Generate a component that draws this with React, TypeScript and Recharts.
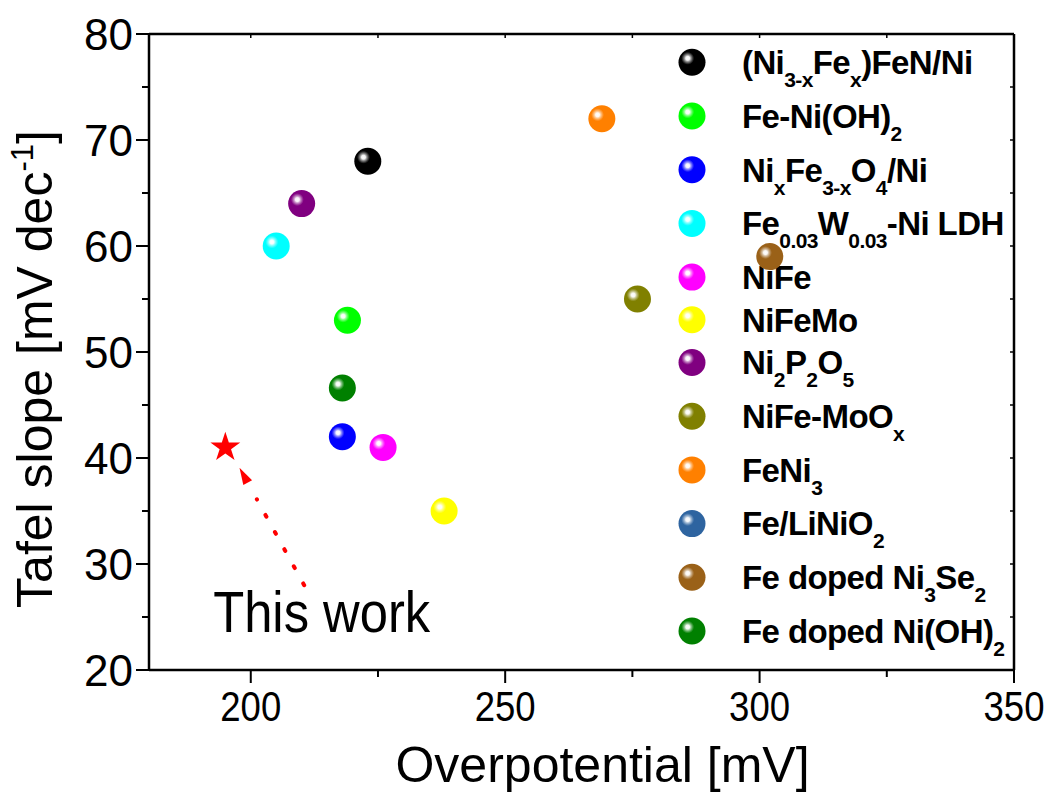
import React from "react";
import {
  ScatterChart,
  Scatter,
  XAxis,
  YAxis,
  Legend,
  Label,
  ReferenceLine,
  ReferenceDot,
} from "recharts";

// catalysts from the literature, subscripts written as _{..}
const materials = [
  "(Ni_{3-x}Fe_{x})FeN/Ni",
  "Fe-Ni(OH)_{2}",
  "Ni_{x}Fe_{3-x}O_{4}/Ni",
  "Fe_{0.03}W_{0.03}-Ni LDH",
  "NiFe",
  "NiFeMo",
  "Ni_{2}P_{2}O_{5}",
  "NiFe-MoO_{x}",
  "FeNi_{3}",
  "Fe/LiNiO_{2}",
  "Fe doped Ni_{3}Se_{2}",
  "Fe doped Ni(OH)_{2}",
];
// Fe/LiNiO2 has no visible point in the plot
const overpotential = [223, 219, 218, 205, 226, 238, 210, 276, 269, null, 302, 218];
const tafelSlope = [68, 53, 42, 60, 41, 35, 64, 55, 72, null, 59, 46.6];
const sphereColors = [
  "#000000", "#00ff00", "#0000ff", "#00ffff", "#ff00ff", "#ffff00",
  "#800080", "#808000", "#ff8000", "#2e64a0", "#9a6118", "#008000",
];

const thisWorkOverpotential = [195];
const thisWorkTafel = [41];
// dotted arrow pointing at the star
const arrowTail = { x: 210.5, y: 28 };
const arrowEnd = { x: 201.2, y: 36.1 };

const xTicks = [200, 225, 250, 275, 300, 325, 350];
const yTicks = [20, 25, 30, 35, 40, 45, 50, 55, 60, 65, 70, 75, 80];

const FONT = "'Liberation Sans', Arial, sans-serif";

function richText(s: string, subSize: number, shift: number) {
  const parts = s.split(/(_\{[^}]*\}|\^\{[^}]*\})/).filter((p) => p !== "");
  let offset = 0;
  return parts.map((p, i) => {
    let target = 0;
    let text = p;
    let size: number | undefined;
    if (p.startsWith("_{")) {
      target = shift;
      text = p.slice(2, -1);
      size = subSize;
    } else if (p.startsWith("^{")) {
      target = -shift;
      text = p.slice(2, -1);
      size = subSize;
    }
    const dy = target - offset;
    offset = target;
    return (
      <tspan key={i} dy={dy || undefined} fontSize={size}>
        {text}
      </tspan>
    );
  });
}

function Highlight({ id }: { id: string }) {
  return (
    <radialGradient id={id}>
      <stop offset="0" stopColor="#fff" stopOpacity={1} />
      <stop offset="0.3" stopColor="#fff" stopOpacity={0.95} />
      <stop offset="0.5" stopColor="#fff" stopOpacity={0.6} />
      <stop offset="0.8" stopColor="#fff" stopOpacity={0.2} />
      <stop offset="1" stopColor="#fff" stopOpacity={0} />
    </radialGradient>
  );
}

function Sphere({ cx, cy, color, hl }: { cx: number; cy: number; color: string; hl: string }) {
  return (
    <g>
      <circle cx={cx} cy={cy} r={13.5} fill={color} />
      <circle cx={cx - 4.3} cy={cy - 4} r={6.5} fill={`url(#${hl})`} />
    </g>
  );
}

function Star(props: any) {
  const { cx, cy } = props;
  const R = 15.7;
  const r = 6;
  const pts: string[] = [];
  for (let i = 0; i < 10; i++) {
    const a = (Math.PI / 5) * i - Math.PI / 2;
    const rad = i % 2 === 0 ? R : r;
    pts.push(`${cx + rad * Math.cos(a)},${cy + rad * Math.sin(a)}`);
  }
  return <polygon points={pts.join(" ")} fill="#ff0000" />;
}

function XTick(props: any) {
  const { x, y, payload } = props;
  const major = payload.value % 50 === 0;
  return (
    <g>
      <line x1={x} x2={x} y1={y} y2={y + (major ? 13 : 7)} stroke="#000" strokeWidth={2} />
      {major && (
        <text
          transform={`translate(${x},${y + 51}) scale(0.87,1)`}
          textAnchor="middle"
          fontSize={42}
          fontFamily={FONT}
          fill="#000"
        >
          {payload.value}
        </text>
      )}
    </g>
  );
}

function YTick(props: any) {
  const { x, y, payload } = props;
  const major = payload.value % 10 === 0;
  return (
    <g>
      <line x1={x} x2={x - (major ? 13 : 7)} y1={y} y2={y} stroke="#000" strokeWidth={2} />
      {major && (
        <text x={x - 16} y={y + 15.5} textAnchor="end" fontSize={44} fontFamily={FONT} fill="#000">
          {payload.value}
        </text>
      )}
    </g>
  );
}

function TopTick(props: any) {
  const { x, y } = props;
  return <line x1={x} x2={x} y1={y} y2={y + 4} stroke="#000" strokeWidth={1.5} />;
}

function RightTick(props: any) {
  const { x, y } = props;
  return <line x1={x} x2={x - 4} y1={y} y2={y} stroke="#000" strokeWidth={1.5} />;
}

function SphereLegend() {
  let cy = 62.3;
  const rows = materials.map((m, i) => {
    const row = { m, y: cy, color: sphereColors[i] };
    cy += m.includes("_{") ? 53.7 : 42.7;
    return row;
  });
  return (
    <svg width={1050} height={795} style={{ display: "block" }}>
      <defs>
        <Highlight id="legHl" />
      </defs>
      {rows.map((r, i) => (
        <g key={i}>
          <Sphere cx={692} cy={r.y} color={r.color} hl="legHl" />
          <text
            x={742}
            y={r.y + 11.8}
            fontFamily={FONT}
            fontWeight="bold"
            fontSize={33}
            letterSpacing={-0.6}
            fill="#000"
          >
            {richText(r.m, 21, 13)}
          </text>
        </g>
      ))}
    </svg>
  );
}

export default function App() {
  const series = materials.map((name, i) => ({
    name,
    color: sphereColors[i],
    data:
      overpotential[i] == null
        ? []
        : [{ x: overpotential[i] as number, y: tafelSlope[i] as number }],
  }));
  const thisWork = thisWorkOverpotential.map((x, i) => ({ x, y: thisWorkTafel[i] }));

  return (
    <div style={{ position: "absolute", left: 0, top: 0 }}>
      <ScatterChart width={1050} height={795} margin={{ top: 33, right: 35, bottom: 65, left: 79 }}>
        <defs>
          <Highlight id="hl" />
          <marker
            id="arrowHead"
            markerWidth={36}
            markerHeight={12}
            refX={0}
            refY={6}
            orient="auto"
            markerUnits="userSpaceOnUse"
            viewBox="0 0 36 12"
          >
            <path d="M19,1 L36,6 L19,11 Z" fill="#ff0000" />
          </marker>
        </defs>
        <XAxis
          dataKey="x"
          type="number"
          domain={[180, 350]}
          ticks={xTicks}
          interval={0}
          height={60}
          tickSize={0}
          tickMargin={0}
          tick={<XTick />}
          axisLine={{ stroke: "#000", strokeWidth: 2.5 }}
          allowDataOverflow
        >
          <Label
            content={(p: any) => {
              const vb = p.viewBox || { x: 149, y: 670, width: 865, height: 60 };
              return (
                <text
                  x={vb.x + vb.width / 2 + 21}
                  y={vb.y + 112}
                  textAnchor="middle"
                  fontSize={50}
                  fontFamily={FONT}
                  fill="#000"
                >
                  Overpotential [mV]
                </text>
              );
            }}
          />
        </XAxis>
        <XAxis
          xAxisId="top"
          orientation="top"
          dataKey="x"
          type="number"
          domain={[180, 350]}
          ticks={xTicks}
          interval={0}
          height={1}
          tickSize={0}
          tickMargin={0}
          tick={<TopTick />}
          axisLine={{ stroke: "#000", strokeWidth: 2.5 }}
          allowDataOverflow
        />
        <YAxis
          dataKey="y"
          type="number"
          domain={[20, 80]}
          ticks={yTicks}
          interval={0}
          width={70}
          tickSize={0}
          tickMargin={0}
          tick={<YTick />}
          axisLine={{ stroke: "#000", strokeWidth: 2.5 }}
          allowDataOverflow
        >
          <Label
            content={(p: any) => {
              const vb = p.viewBox || { x: 79, y: 34, width: 70, height: 636 };
              const cx = vb.x - 27;
              const cy = vb.y + vb.height / 2 + 17;
              return (
                <text
                  transform={`translate(${cx},${cy}) rotate(-90)`}
                  textAnchor="middle"
                  fontSize={50}
                  fontFamily={FONT}
                  fill="#000"
                >
                  {richText("Tafel slope [mV dec^{-1}]", 31, 19)}
                </text>
              );
            }}
          />
        </YAxis>
        <YAxis
          yAxisId="right"
          orientation="right"
          dataKey="y"
          type="number"
          domain={[20, 80]}
          ticks={yTicks}
          interval={0}
          width={1}
          tickSize={0}
          tickMargin={0}
          tick={<RightTick />}
          axisLine={{ stroke: "#000", strokeWidth: 2.5 }}
          allowDataOverflow
        />
        <Legend
          layout="horizontal"
          align="center"
          verticalAlign="middle"
          content={() => <SphereLegend />}
          wrapperStyle={{ left: 0, top: 0, width: 1050, height: 795, zIndex: -1 }}
        />
        <ReferenceLine
          segment={[arrowTail, arrowEnd]}
          stroke="#ff0000"
          strokeWidth={4}
          strokeDasharray="2 17.56"
          strokeLinecap="round"
          markerEnd="url(#arrowHead)"
        />
        <ReferenceDot
          x={arrowTail.x}
          y={arrowTail.y}
          r={0}
          fill="none"
          stroke="none"
          label={(p: any) => {
            const vb = p.viewBox || { x: 304, y: 585 };
            return (
              <text
                transform={`translate(${vb.x - 91},${vb.y + 47}) scale(0.89,1)`}
                fontSize={57}
                fontFamily={FONT}
                fill="#000"
              >
                This work
              </text>
            );
          }}
        />
        {series.map((s) => (
          <Scatter
            key={s.name}
            name={s.name}
            data={s.data}
            isAnimationActive={false}
            shape={(p: any) => <Sphere cx={p.cx} cy={p.cy} color={s.color} hl="hl" />}
          />
        ))}
        <Scatter
          name="This work"
          data={thisWork}
          xAxisId="top"
          yAxisId="right"
          isAnimationActive={false}
          shape={<Star />}
        />
      </ScatterChart>
    </div>
  );
}
